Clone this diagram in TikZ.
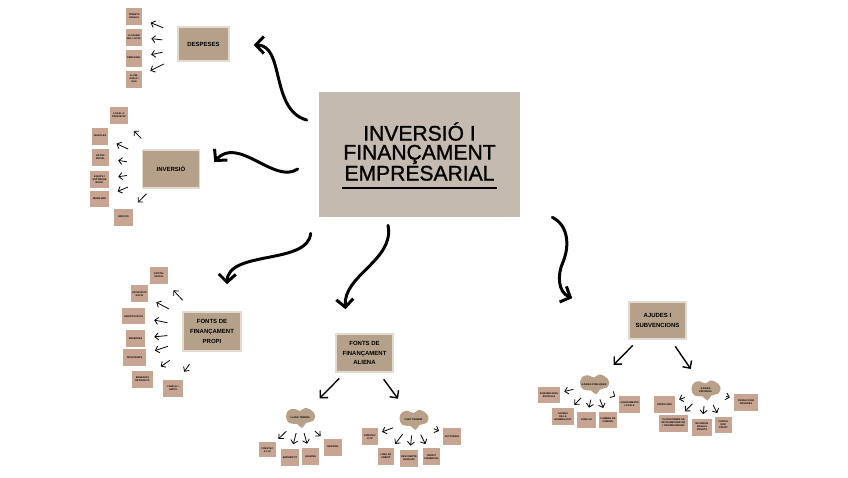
\documentclass[tikz,border=0pt]{standalone}
\usepackage{fontspec}
\setmainfont{Liberation Sans}
\newfontfamily\titlefont[FakeBold=1.2]{Liberation Sans}
\usetikzlibrary{arrows.meta,calc}
\definecolor{stone}{HTML}{C4BAB0}
\definecolor{sand}{HTML}{B5A089}
\definecolor{sandedge}{HTML}{E2DAD0}
\definecolor{leafc}{HTML}{C8A592}
\definecolor{blobc}{HTML}{B8A188}
\newcommand{\leaffont}{\bfseries\fontsize{1.4}{1.7}\selectfont}
\newcommand{\midfont}{\bfseries\fontsize{3.4}{5.6}\selectfont}

\begin{document}
\begin{tikzpicture}[x=0.02cm,y=-0.02cm,
  big/.style={line width=1.7pt,line cap=round,-{Straight Barb[length=1.6mm,width=3.4mm]}},
  mid/.style={line width=0.8pt,-{Straight Barb[length=1.1mm,width=2.2mm]},
              shorten <=0.16cm,shorten >=0.32cm},
  sm/.style={line width=0.45pt,-{Straight Barb[length=0.7mm,width=1.4mm]},
             shorten <=0.3cm,shorten >=0.18cm},
  tr/.style={line width=0.45pt,-{Straight Barb[length=0.7mm,width=1.4mm]},
             shorten <=0.14cm,shorten >=0.08cm},
  topic/.style={fill=sand,draw=sandedge,line width=0.9pt,minimum width=1.14cm,
                minimum height=0.76cm,inner sep=1pt,align=center,font=\midfont},
  leaf/.style={fill=leafc,minimum width=#1,minimum height=0.34cm,inner sep=0.4pt,
               align=center,font=\leaffont},
  leaf/.default=0.36cm,
  blobtxt/.style={minimum width=0.54cm,minimum height=0.32cm,inner sep=0pt,
                  align=center,font=\leaffont}]
\useasboundingbox (0,0) rectangle (848,477);

% central title
\node[fill=stone,minimum width=4.02cm,minimum height=2.5cm,inner sep=0pt] (C) at (419.5,154.5) {};
\node[font={\titlefont\fontsize{12}{10.8}\selectfont},align=center,inner sep=0pt] (T) at (419.5,151.5)
  {INVERSIÓ I\\FINANÇAMENT\\EMPRESARIAL};
\draw[line width=1.1pt] (342,188) -- (497,188);

% topics
\node[topic,minimum width=1.02cm,minimum height=0.68cm] (D) at (203.5,44) {DESPESES};
\node[topic] (I) at (171,169) {INVERSIÓ};
\node[topic,minimum width=1.16cm,minimum height=0.78cm] (P) at (212,331.5) {FONTS DE\\FINANÇAMENT\\PROPI};
\node[topic] (A) at (364.5,353) {FONTS DE\\FINANÇAMENT\\ALIENA};
\node[topic,minimum height=0.74cm] (J) at (657.5,320.5) {AJUDES I\\SUBVENCIONS};

% wavy arrows
\draw[big] ($(C.west)+(-12,-34.5)$) .. controls (270,110) and (285,45) .. ($(D.east)+(24,1)$);
\draw[big] ($(C.west)+(-21,14.5)$) .. controls (275,185) and (238,135) .. ($(I.east)+(14,-7)$);
\draw[big] ($(C.south west)+(-8,16)$) .. controls (308,265) and (228,250) .. ($(P.north)+(15,-27)$);
\draw[big] ($(C.south)+(-31.5,8)$) .. controls (395,260) and (343,275) .. ($(A.north)+(-19,-24)$);
\draw[big] ($(C.south east)+(32,0)$) .. controls (568,225) and (570,245) .. (563,262)
  .. controls (557,275) and (558,292) .. ($(J.north west)+(-56,-3)$);

% despeses
\node[leaf=0.32cm] (d1) at (134,16) {TRÀMITS\\LEGALS};
\node[leaf=0.32cm] (d2) at (134,37) {LLOGUER\\DEL LOCAL};
\node[leaf=0.32cm] (d3) at (134,58) {PERSONAL};
\node[leaf=0.32cm] (d4) at (134,79) {LLUM,\\AIGUA I\\GAS};
\foreach \n in {d1,d2,d3,d4} \draw[sm] (D) -- (\n);

% inversio
\node[leaf] (i1) at (119,115.5) {LOCAL O\\PROPIETAT};
\node[leaf=0.32cm] (i2) at (100,136) {VEHICLES};
\node[leaf=0.34cm] (i3) at (100.5,157.5) {ESTOC\\INICIAL};
\node[leaf=0.38cm] (i4) at (99.5,179.5) {EQUIPS I\\SOFTWARE\\BÀSIC};
\node[leaf=0.38cm,minimum height=0.32cm] (i5) at (99.5,199) {MOBILIARI};
\node[leaf=0.38cm] (i6) at (123.5,217) {EDIFICIS};
\foreach \n in {i1,i2,i3,i4,i5} \draw[sm] (I) -- (\n);
\draw[sm,shorten <=0.14cm,shorten >=0.16cm] (I) -- (i6);

% fonts propies
\node[leaf] (p1) at (159,275) {CAPITAL\\SOCIAL};
\node[leaf=0.34cm] (p2) at (139.5,293.5) {APORTACIÓ\\SOCIS};
\node[leaf=0.46cm,minimum height=0.32cm] (p3) at (133.5,316) {AMORTITZACIÓ};
\node[leaf=0.38cm] (p4) at (135.5,338.5) {RESERVES};
\node[leaf=0.46cm] (p5) at (134.5,357.5) {PROVISIONS};
\node[leaf=0.42cm] (p6) at (142.5,379) {BENEFICIS\\RETINGUTS};
\node[leaf=0.40cm] (p7) at (173,388) {FAMÍLIA I\\AMICS};
\foreach \n in {p1,p2,p3,p4,p5,p6,p7} \draw[sm] (P) -- (\n);

% blobs
\foreach \bx/\by in {300/418,413.5/420,594/384.5,705.5/390.5}
  \fill[blobc,shift={(\bx,\by)}] plot[smooth cycle,tension=0.7] coordinates
    {(-14,-2) (-11,-8) (-5,-9) (0,-7) (5,-10) (11,-8) (15,-3) (13,3) (6,5) (2,10) (-3,6) (-11,5)};
\node[blobtxt] (LB) at (300,418) {LLARG TERMINI};
\node[blobtxt] (RB) at (413.5,420) {CURT TERMINI};
\node[blobtxt] (JL) at (594,384.5) {AJUDES PÚBLIQUES};
\node[blobtxt] (JR) at (705.5,390.5) {AJUDES\\PRIVADES};
\draw[mid] (A) -- (LB); \draw[mid] (A) -- (RB);
\draw[mid] (J) -- (JL); \draw[mid] (J) -- (JR);

% fonts alienes
\node[leaf=0.34cm,minimum height=0.30cm] (la1) at (267.5,449.5) {PRÉSTEC\\A LLP};
\node[leaf] (la2) at (290,457) {EMPRÉSTIT};
\node[leaf=0.34cm] (la3) at (310.5,456.5) {LEASING};
\node[leaf] (la4) at (333,447) {RENTING};
\foreach \n in {la1,la2,la3,la4} \draw[tr] (LB) -- (\n);
\node[leaf=0.32cm] (ra1) at (370,436.5) {PRÉSTEC\\A CP};
\node[leaf=0.32cm] (ra2) at (386,456) {LÍNIA DE\\CRÈDIT};
\node[leaf] (ra3) at (409,458.5) {DESCOMPTE\\BANCARI};
\node[leaf=0.34cm] (ra4) at (431.5,456.5) {CRÈDIT\\COMERCIAL};
\node[leaf] (ra5) at (452,436.5) {FACTORING};
\foreach \n in {ra1,ra2,ra3,ra4,ra5} \draw[tr] (RB) -- (\n);

% ajudes
\node[leaf=0.44cm,minimum height=0.32cm] (jl1) at (549,395) {SUBVENCIONS\\ESTATALS};
\node[leaf=0.44cm] (jl2) at (563,416.5) {AJUDES\\DE LA\\GENERALITAT};
\node[leaf=0.38cm,minimum height=0.32cm] (jl3) at (586.5,420) {FONS UE};
\node[leaf=0.36cm,minimum height=0.32cm] (jl4) at (608,420) {CAMBRA DE\\COMERÇ};
\node[leaf=0.42cm] (jl5) at (629.5,404.5) {AJUNTAMENTS\\LOCALS};
\foreach \n in {jl1,jl2,jl3,jl4,jl5} \draw[tr] (JL) -- (\n);
\node[leaf=0.42cm] (jr1) at (664.5,404.5) {PATROCINIS};
\node[leaf=0.58cm] (jr2) at (673.5,423) {PLATAFORMES DE\\MICROMECENATGE\\I CROWDFUNDING};
\node[leaf=0.40cm] (jr3) at (702,427) {BUSINESS\\ANGELS\\PRIVATS};
\node[leaf=0.34cm,minimum height=0.32cm] (jr4) at (723.5,425) {CAPITAL\\RISC\\PRIVAT};
\node[leaf=0.48cm] (jr5) at (746,402) {FUNDACIONS\\PRIVADES};
\foreach \n in {jr1,jr2,jr3,jr4,jr5} \draw[tr] (JR) -- (\n);
\end{tikzpicture}
\end{document}
